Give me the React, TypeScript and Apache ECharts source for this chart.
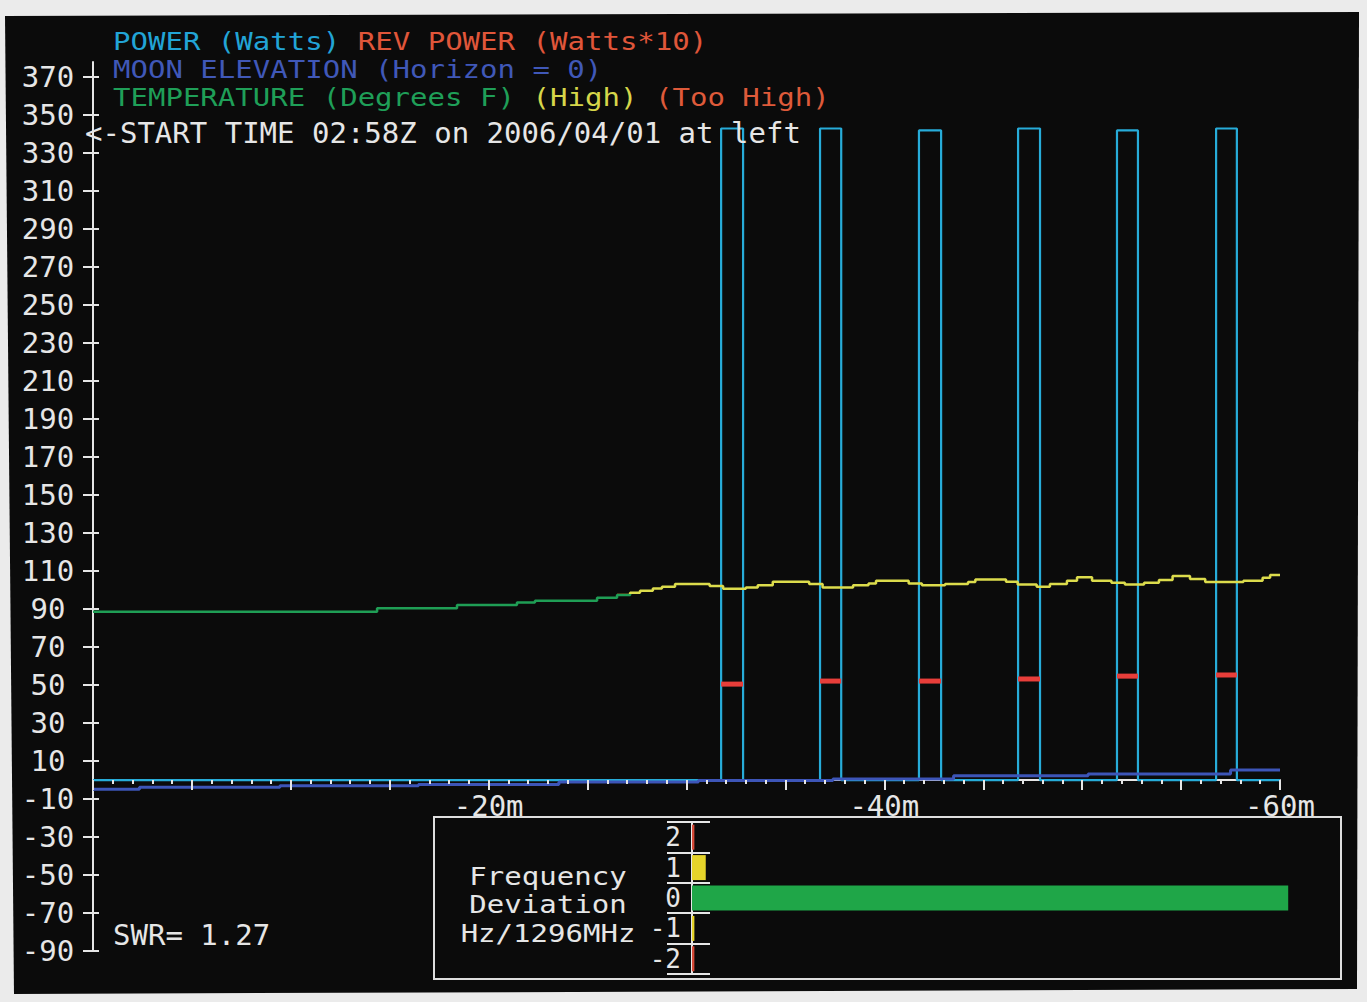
import React, { useEffect, useRef } from "react";
import * as echarts from "echarts";

const FONT = '"DejaVu Sans Mono", "Liberation Mono", monospace';

// ---- axes ----
const yTickValues = [-90, -70, -50, -30, -10, 10, 30, 50, 70, 90, 110, 130, 150, 170, 190, 210, 230, 250, 270, 290, 310, 330, 350, 370];
const timeLabelMinutes = [20, 40, 60];

// ---- POWER pulses (Watts) and REV POWER (Watts*10) ----
const pulseStart = [31.75, 36.75, 41.75, 46.76, 51.76, 56.77];
const pulseEnd = [32.86, 37.82, 42.87, 47.87, 52.82, 57.82];
const pulsePower = [343, 343, 342, 343, 342, 343];
const revPower = [50.5, 52.1, 52.1, 53.2, 54.7, 55.3];

// ---- MOON ELEVATION (step starts, minutes ago) ----
const moonMinutes = [0, 2.35, 9.45, 16.45, 23.55, 30.6, 37.4, 43.5, 50.3, 57.5, 60];
const moonElevation = [-4.9, -3.8, -3.0, -2.3, -1.0, -0.2, 0.6, 2.2, 3.2, 5.3, 5.3];

// ---- TEMPERATURE (Degrees F) ----
const tempMinutes = [0, 14.36, 18.4, 21.43, 22.34, 25.48, 26.49, 27.15, 27.65, 28.3, 28.76, 29.42, 31.17, 31.85, 33.0, 33.6, 34.36, 36.2, 36.88, 38.42, 39.2, 39.58, 41.23, 41.9, 43.07, 44.23, 44.6, 46.15, 46.74, 47.7, 48.37, 49.23, 49.74, 50.5, 51.48, 52.16, 53.13, 53.88, 54.57, 55.45, 56.22, 58.15, 59.12, 59.5, 60];
const tempValues = [88.6, 90.4, 92.1, 93.5, 94.4, 95.9, 97.4, 98.6, 99.6, 100.8, 101.7, 103.2, 102.1, 100.7, 101.3, 102.6, 104.4, 103.2, 101.4, 102.6, 103.5, 104.9, 103.5, 102.5, 103.2, 104.2, 105.6, 104.4, 103.0, 101.7, 103.2, 104.9, 106.7, 104.9, 103.8, 102.9, 103.8, 105.3, 107.4, 105.8, 104.2, 104.9, 106.5, 107.9, 107.9];

// ---- Frequency deviation (Hz / 1296 MHz) share of time ----
const devBins = ["-2", "-1", "0", "1", "2"];
const devShare = [0.4, 0.4, 99.7, 2.3, 0.4];

// ---- legend lines ----
const legendLines = [
  "{c|POWER (Watts)} {r|REV POWER (Watts*10)}",
  "{b|MOON ELEVATION (Horizon = 0)}",
  "{g|TEMPERATURE (Degrees F)} {y|(High)} {t|(Too High)}",
];

const C = {
  cyan: "#27acd9",
  rev: "#e83e3a",
  blue: "#3d55b8",
  green: "#1f9e55",
  yellow: "#dcdc4c",
  tooHigh: "#de5a3a",
  white: "#e6e6e6",
  gGreen: "#1fa648",
  gYellow: "#e6d42a",
  gRed: "#d64a38",
};

function buildOption() {
  const powerData: number[][] = [[0, 0]];
  pulseStart.forEach((s, i) => {
    powerData.push([s, 0], [s, pulsePower[i]], [pulseEnd[i], pulsePower[i]], [pulseEnd[i], 0]);
  });
  powerData.push([60, 0]);
  const revData = pulseStart.map((s, i) => [s, pulseEnd[i], revPower[i]]);
  const moonData = moonMinutes.map((m, i) => [m, moonElevation[i]]);
  const tempData = tempMinutes.map((m, i) => [m, tempValues[i]]);
  const devData = devBins.map((b, i) => {
    const a = Math.abs(Number(b));
    return { value: devShare[i], itemStyle: { color: a === 0 ? C.gGreen : a === 1 ? C.gYellow : C.gRed } };
  });

  const rs = (color: string) => ({ fill: color, font: `24px ${FONT}` });
  const rich = {
    c: rs("#22a4d6"),
    r: rs("#e0563a"),
    b: rs("#4058b8"),
    g: rs("#1f9f58"),
    y: rs("#d6d64a"),
    t: rs(C.tooHigh),
  };

  const baseX = {
    type: "value",
    gridIndex: 0,
    min: 0,
    max: 60,
    interval: 5,
    splitLine: { show: false },
  };
  const baseY = {
    type: "value",
    gridIndex: 0,
    min: -90,
    max: 378,
    position: "left",
    splitLine: { show: false },
  };
  const label = (text: string, x: number, y: number, align: string) => ({
    type: "text",
    z: 5,
    x,
    y,
    style: { text, font: `29px ${FONT}`, fill: C.white, textAlign: align, textVerticalAlign: "middle" },
  });
  // narrow-pitch stacked lines: smaller font, stretched horizontally to the reference's pitch
  const stretched = (text: string, x: number, y: number, align: string, withRich = false) => ({
    type: "text",
    z: 5,
    x,
    y,
    scaleX: 1.21,
    style: {
      text,
      font: `24px ${FONT}`,
      fill: C.white,
      textAlign: align,
      textVerticalAlign: "middle",
      ...(withRich ? { rich } : {}),
    },
  });

  return {
    animation: false,
    backgroundColor: "#ebebeb",
    textStyle: { fontFamily: FONT },
    graphic: [
      {
        type: "polygon",
        z: -10,
        silent: true,
        shape: { points: [[5, 16], [1359, 12], [1357, 989], [14, 994]] },
        style: { fill: "#0b0b0b" },
      },
      {
        type: "rect",
        z: 1,
        silent: true,
        shape: { x: 434, y: 817, width: 907, height: 162 },
        style: { fill: "none", stroke: "#dedede", lineWidth: 2 },
      },
      stretched(legendLines[0], 113, 41, "left", true),
      stretched(legendLines[1], 113, 69, "left", true),
      stretched(legendLines[2], 113, 97, "left", true),
      label("<-START TIME 02:58Z on 2006/04/01 at left", 85, 133, "left"),
      label("SWR= 1.27", 113, 935, "left"),
      stretched("Frequency", 548, 876, "center"),
      stretched("Deviation", 548, 904, "center"),
      stretched("Hz/1296MHz", 548, 933, "center"),
    ],
    grid: [
      { left: 93, right: 87, top: 62, bottom: 51 },
      { left: 692, right: 77, top: 822, bottom: 28 },
      { left: 93, right: 87, top: 62, bottom: 222 },
    ],
    xAxis: [
      {
        ...baseX,
        z: 0,
        axisLine: { onZero: true, onZeroAxisIndex: 0, lineStyle: { color: C.white, width: 2 } },
        axisTick: { show: true, length: 10, lineStyle: { color: C.white, width: 2 } },
        minorTick: { show: true, splitNumber: 5, length: 4, lineStyle: { color: C.white, width: 2 } },
        axisLabel: { show: false },
      },
      {
        ...baseX,
        z: 10,
        axisLine: { show: false, onZero: true, onZeroAxisIndex: 0 },
        axisTick: { show: true, inside: true, length: 10, lineStyle: { color: C.white, width: 2 } },
        minorTick: { show: true, splitNumber: 5, length: 4, lineStyle: { color: C.white, width: 2 } },
        axisLabel: { show: false },
      },
      {
        type: "value",
        gridIndex: 1,
        min: 0,
        max: 100,
        show: false,
        splitLine: { show: false },
      },
      {
        ...baseX,
        gridIndex: 2,
        axisLine: { show: false, onZero: false },
        axisTick: { show: false },
        axisLabel: {
          show: true,
          margin: 11,
          color: C.white,
          fontFamily: FONT,
          fontSize: 29,
          formatter: (v: number) => (timeLabelMinutes.includes(v) ? `-${v}m` : ""),
        },
      },
    ],
    yAxis: [
      {
        ...baseY,
        axisLine: { show: true, onZero: false, lineStyle: { color: C.white, width: 2 } },
        axisTick: { show: true, length: 10, customValues: yTickValues, lineStyle: { color: C.white, width: 2 } },
        axisLabel: {
          show: true,
          customValues: yTickValues,
          align: "center",
          margin: 45,
          color: C.white,
          fontFamily: FONT,
          fontSize: 29,
        },
      },
      {
        ...baseY,
        axisLine: { show: false, onZero: false },
        axisTick: { show: true, inside: true, length: 6, customValues: yTickValues, lineStyle: { color: C.white, width: 2 } },
        axisLabel: { show: false },
      },
      {
        type: "category",
        gridIndex: 1,
        data: devBins,
        position: "left",
        axisLine: { show: true, onZero: false, lineStyle: { color: C.white, width: 2 } },
        axisTick: { show: true, interval: 0, length: 25, lineStyle: { color: C.white, width: 2 } },
        axisLabel: { show: true, interval: 0, margin: 11, color: C.white, fontFamily: FONT, fontSize: 26 },
        splitLine: { show: false },
      },
      {
        type: "category",
        gridIndex: 1,
        data: devBins,
        position: "left",
        z: 10,
        axisLine: { show: false, onZero: false },
        axisTick: { show: true, inside: true, interval: 0, length: 18, lineStyle: { color: C.white, width: 2 } },
        axisLabel: { show: false },
        splitLine: { show: false },
      },
      {
        type: "value",
        gridIndex: 2,
        min: 0,
        max: 378,
        show: false,
        splitLine: { show: false },
      },
    ],
    visualMap: [
      {
        type: "piecewise",
        show: false,
        seriesIndex: 3,
        dimension: 1,
        pieces: [
          { lt: 98, color: C.green },
          { gte: 98, lt: 115, color: C.yellow },
          { gte: 115, color: C.tooHigh },
        ],
      },
    ],
    series: [
      {
        name: "POWER (Watts)",
        type: "line",
        xAxisIndex: 0,
        yAxisIndex: 0,
        data: powerData,
        symbol: "none",
        z: 3,
        lineStyle: { color: C.cyan, width: 2.2 },
      },
      {
        name: "REV POWER (Watts*10)",
        type: "custom",
        xAxisIndex: 0,
        yAxisIndex: 0,
        data: revData,
        encode: { x: [0, 1], y: 2 },
        z: 4,
        renderItem: (_p: any, api: any) => {
          const a = api.coord([api.value(0), api.value(2)]);
          const b = api.coord([api.value(1), api.value(2)]);
          return {
            type: "line",
            shape: { x1: a[0], y1: a[1], x2: b[0], y2: b[1] },
            style: { stroke: C.rev, lineWidth: 5 },
          };
        },
      },
      {
        name: "MOON ELEVATION",
        type: "line",
        xAxisIndex: 0,
        yAxisIndex: 0,
        step: "end",
        data: moonData,
        symbol: "none",
        z: 5,
        lineStyle: { color: C.blue, width: 3 },
      },
      {
        name: "TEMPERATURE",
        type: "line",
        xAxisIndex: 0,
        yAxisIndex: 0,
        step: "end",
        data: tempData,
        symbol: "none",
        z: 4,
        lineStyle: { width: 2.5 },
      },
      {
        name: "Frequency Deviation",
        type: "bar",
        xAxisIndex: 2,
        yAxisIndex: 2,
        data: devData,
        barWidth: 25,
        z: 3,
      },
    ],
  };
}

export default function App() {
  const ref = useRef<HTMLDivElement>(null);
  useEffect(() => {
    if (!ref.current) return;
    const chart = echarts.init(ref.current, null, { renderer: "svg" });
    chart.setOption(buildOption() as any);
    return () => chart.dispose();
  }, []);
  return (
    <div
      ref={ref}
      style={{ position: "fixed", left: 0, top: 0, width: 1367, height: 1002 }}
    />
  );
}
